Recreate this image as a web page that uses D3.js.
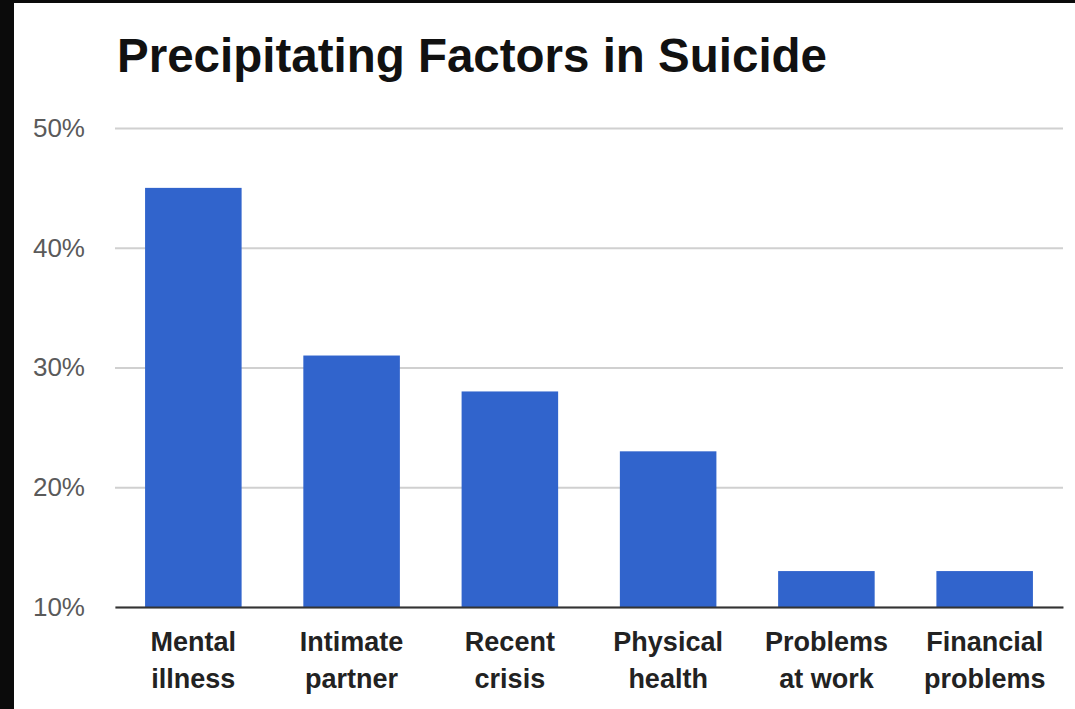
<!DOCTYPE html>
<html><head><meta charset="utf-8">
<script src="https://cdn.jsdelivr.net/npm/d3@7"></script>
<style>html,body{margin:0;padding:0;background:#fff;overflow:hidden}</style>
</head><body>
<svg id="chart" width="1075" height="709"></svg>
<script>
const categories = [["Mental","illness"],["Intimate","partner"],["Recent","crisis"],["Physical","health"],["Problems","at work"],["Financial","problems"]];
const values = [45, 31, 28, 23, 13, 13];
const yTicks = [10, 20, 30, 40, 50];
const title = "Precipitating Factors in Suicide";

(function(){
const svg = d3.select("#chart");
svg.append("rect").attr("width",1075).attr("height",709).attr("fill","#0b0b0b");
svg.append("rect").attr("x",14).attr("y",3).attr("width",1061).attr("height",706).attr("fill","#fff");

const mLeft = 115, mRight = 1063, mTop = 128, mBottom = 607;
const x = d3.scaleBand().domain(categories.map((d,i)=>i)).range([mLeft,mRight]).paddingInner(0.39).paddingOuter(0.19);
const y = d3.scaleLinear().domain([10,50]).range([mBottom,mTop]);

svg.append("text").attr("x",117).attr("y",72).attr("font-family","Liberation Sans, Arial, sans-serif")
  .attr("font-weight","bold").attr("font-size",47.5).attr("fill","#111").text(title);

const yAxis = svg.append("g").attr("transform",`translate(${mLeft},0)`)
  .call(d3.axisLeft(y).tickValues(yTicks).tickSize(-(mRight-mLeft)).tickFormat(d=>d+"%"));
yAxis.select(".domain").remove();
yAxis.selectAll(".tick line").attr("stroke","#d0d0d0").attr("stroke-width",2);
yAxis.selectAll(".tick text").attr("x",-30).attr("fill","#5a5a5a").attr("font-size",26)
  .attr("font-family","Liberation Sans, Arial, sans-serif");

svg.append("g").selectAll("rect").data(values).join("rect")
  .attr("x",(d,i)=>x(i)).attr("width",x.bandwidth())
  .attr("y",d=>y(d)).attr("height",d=>y(10)-y(d)).attr("fill","#3164cc");

const xAxis = svg.append("g").attr("transform",`translate(0,${mBottom})`)
  .call(d3.axisBottom(x).tickSize(0).tickFormat(""));
xAxis.select(".domain").attr("stroke","#333").attr("stroke-width",2);
xAxis.selectAll(".tick").each(function(d){
  const t = d3.select(this).append("text").attr("fill","#222").attr("font-size",27)
    .attr("font-weight","bold").attr("font-family","Liberation Sans, Arial, sans-serif")
    .attr("text-anchor","middle");
  categories[d].forEach((s,j)=>t.append("tspan").attr("x",0).attr("y",44+j*37).text(s));
});
})();
</script>
</body></html>
